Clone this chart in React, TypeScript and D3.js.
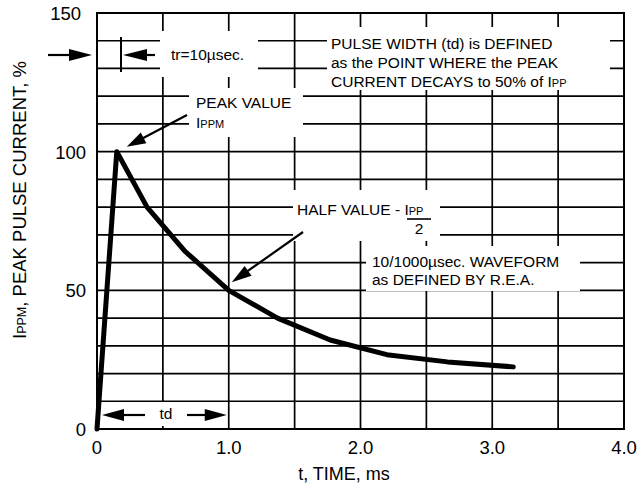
import React from "react";
import * as d3 from "d3";

const timeMs = [0, 0.15, 0.38, 0.67, 1.0, 1.37, 1.77, 2.2, 2.66, 3.16];
const currentPct = [0, 100, 80, 64, 50, 40, 32.1, 26.8, 24.2, 22.4];
const xTicks = [0, 1, 2, 3, 4];
const xTickLabels = ["0", "1.0", "2.0", "3.0", "4.0"];
const yTicks = [0, 50, 100, 150];
const yTickLabels = ["0", "50", "100", "150"];

const W = 638;
const H = 487;
const FONT = "'Liberation Sans', Arial, Helvetica, sans-serif";

function Arrow({ x1, y1, x2, y2, len = 20, hw = 5.5, sw = 2.2 }: any) {
  const dx = x2 - x1;
  const dy = y2 - y1;
  const d = Math.hypot(dx, dy);
  const ux = dx / d;
  const uy = dy / d;
  const bx = x2 - ux * len;
  const by = y2 - uy * len;
  const px = -uy * hw;
  const py = ux * hw;
  return (
    <g>
      <line x1={x1} y1={y1} x2={bx + ux * 2} y2={by + uy * 2} stroke="#000" strokeWidth={sw} />
      <polygon points={`${x2},${y2} ${bx + px},${by + py} ${bx - px},${by - py}`} fill="#000" />
    </g>
  );
}

export default function App() {
  const x = d3.scaleLinear().domain([0, 4]).range([97, 624]);
  const y = d3.scaleLinear().domain([0, 150]).range([429, 13]);
  const gridX = d3.range(0, 4.0001, 0.5);
  const gridY = d3.range(0, 150.0001, 10);
  const pts: [number, number][] = timeMs.map((t, i) => [t, currentPct[i]]);
  const line = d3
    .line<[number, number]>()
    .x((d) => x(d[0]))
    .y((d) => y(d[1]));

  const boxText = { fontFamily: FONT, fontSize: 15.5, fill: "#000" } as any;
  const sub = 11;

  return (
    <svg width={W} height={H} style={{ position: "absolute", left: 0, top: 0, background: "#fff" }}>
      <rect x={0} y={0} width={W} height={H} fill="#fff" />
      {/* grid */}
      {gridX.map((g) => (
        <line key={"gx" + g} x1={x(g)} x2={x(g)} y1={y(0)} y2={y(150)} stroke="#000" strokeWidth={1.7} />
      ))}
      {gridY.map((g) => (
        <line key={"gy" + g} x1={x(0)} x2={x(4)} y1={y(g)} y2={y(g)} stroke="#000" strokeWidth={1.7} />
      ))}
      {/* white annotation boxes */}
      <rect x={160} y={31} width={98} height={46} fill="#fff" />
      <rect x={327} y={27} width={283} height={63} fill="#fff" />
      <rect x={189} y={88} width={114} height={49} fill="#fff" />
      <rect x={293} y={190} width={147} height={51} fill="#fff" />
      <rect x={366} y={246} width={214} height={45} fill="#fff" />
      <rect x={148} y={402} width={36} height={24} fill="#fff" />
      {/* border */}
      <rect x={x(0)} y={y(150)} width={x(4) - x(0)} height={y(0) - y(150)} fill="none" stroke="#000" strokeWidth={2} />
      {/* curve */}
      <path d={line(pts) || ""} fill="none" stroke="#000" strokeWidth={5} strokeLinejoin="round" strokeLinecap="round" />
      {/* tr marker */}
      <Arrow x1={48} y1={55} x2={92} y2={55} len={23} hw={6} />
      <line x1={121} x2={121} y1={37} y2={72} stroke="#000" strokeWidth={2} />
      <Arrow x1={155} y1={55} x2={123} y2={55} len={24} hw={6} />
      <text x={171} y={60} {...boxText}>tr=10µsec.</text>
      {/* pulse width text */}
      <text x={331} y={49} {...boxText}>PULSE WIDTH (td) is DEFINED</text>
      <text x={331} y={68} {...boxText}>as the POINT WHERE the PEAK</text>
      <text x={331} y={87} {...boxText}>
        CURRENT DECAYS to 50% of I<tspan fontSize={sub}>PP</tspan>
      </text>
      {/* peak value */}
      <text x={196} y={108} {...boxText}>PEAK VALUE</text>
      <text x={196} y={128} {...boxText}>
        I<tspan fontSize={sub}>PPM</tspan>
      </text>
      <Arrow x1={187} y1={115} x2={x(timeMs[1]) + 10} y2={y(currentPct[1]) - 5} len={19} hw={6} />
      {/* half value */}
      <text x={297} y={215} {...boxText}>
        HALF VALUE - I<tspan fontSize={sub}>PP</tspan>
      </text>
      <line x1={407} x2={431} y1={219} y2={219} stroke="#000" strokeWidth={1.6} />
      <text x={419} y={234} textAnchor="middle" {...boxText}>2</text>
      <Arrow x1={303} y1={232} x2={x(1) + 3} y2={y(50) - 8} len={20} hw={6} />
      {/* waveform */}
      <text x={372} y={267} {...boxText}>10/1000µsec. WAVEFORM</text>
      <text x={372} y={285} {...boxText}>as DEFINED BY R.E.A.</text>
      {/* td */}
      <Arrow x1={145} y1={415} x2={x(0) + 5} y2={415} len={22} hw={6} />
      <Arrow x1={187} y1={415} x2={x(1) - 2} y2={415} len={22} hw={6} />
      <text x={166} y={419} textAnchor="middle" {...boxText}>td</text>
      {/* tick labels */}
      {xTicks.map((t, i) => (
        <text key={"xt" + t} x={x(t)} y={454} textAnchor="middle" fontFamily={FONT} fontSize={18.5}>
          {xTickLabels[i]}
        </text>
      ))}
      {yTicks.map((t, i) => (
        <text key={"yt" + t} x={t === 150 ? 81 : 86} y={y(t) + 7} textAnchor="end" fontFamily={FONT} fontSize={18.5}>
          {yTickLabels[i]}
        </text>
      ))}
      {/* axis titles */}
      <text x={344} y={480} textAnchor="middle" fontFamily={FONT} fontSize={18}>
        t, TIME, ms
      </text>
      <text
        transform={`translate(26,${200}) rotate(-90)`}
        textAnchor="middle"
        fontFamily={FONT}
        fontSize={18.5}
      >
        I<tspan fontSize={12.5}>PPM</tspan>, PEAK PULSE CURRENT, %
      </text>
    </svg>
  );
}
